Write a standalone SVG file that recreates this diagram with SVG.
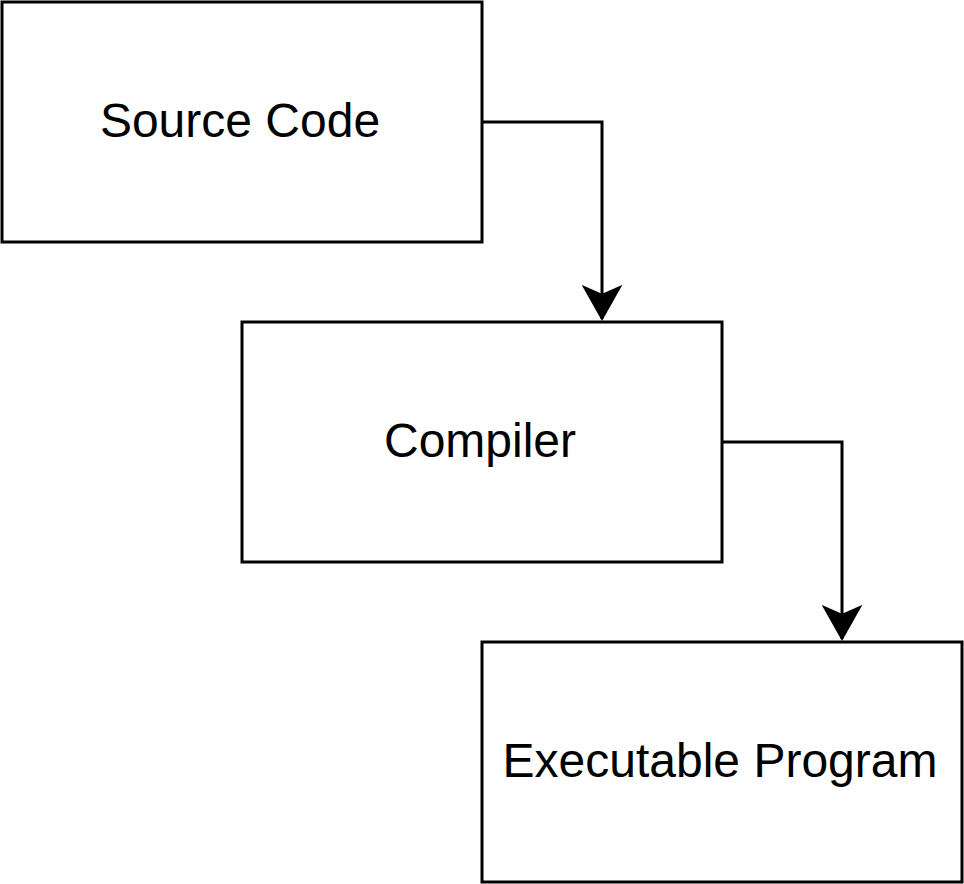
<svg xmlns="http://www.w3.org/2000/svg" width="964" height="884" viewBox="0 0 964 884">
<defs>
<style>
.box{fill:#fff;stroke:#000;stroke-width:3}
.lbl{font-family:"Liberation Sans",Arial,Helvetica,sans-serif;font-size:48px;fill:#000;text-anchor:middle}
.edge{fill:none;stroke:#000;stroke-width:3}
</style>
<marker id="arr" markerUnits="userSpaceOnUse" markerWidth="40" markerHeight="40" viewBox="0 0 40 40" refX="34" refY="20" orient="auto">
<path d="M2,2 L34,20 L2,38 L10,20 Z" fill="#000" stroke="#000" stroke-width="2"/>
</marker>
</defs>
<rect width="964" height="884" fill="#fff"/>
<g id="source-code"><rect class="box" x="2" y="2" width="480" height="240"/><text class="lbl" x="240" y="137">Source Code</text></g>
<g id="compiler"><rect class="box" x="242" y="322" width="480" height="240"/><text class="lbl" x="480" y="457">Compiler</text></g>
<g id="executable"><rect class="box" x="482" y="642" width="480" height="240"/><text class="lbl" x="720" y="777">Executable Program</text></g>
<g id="connectors">
<path class="edge" d="M482,122 H602 V319" marker-end="url(#arr)"/>
<path class="edge" d="M722,442 H842 V639" marker-end="url(#arr)"/>
</g>
</svg>
